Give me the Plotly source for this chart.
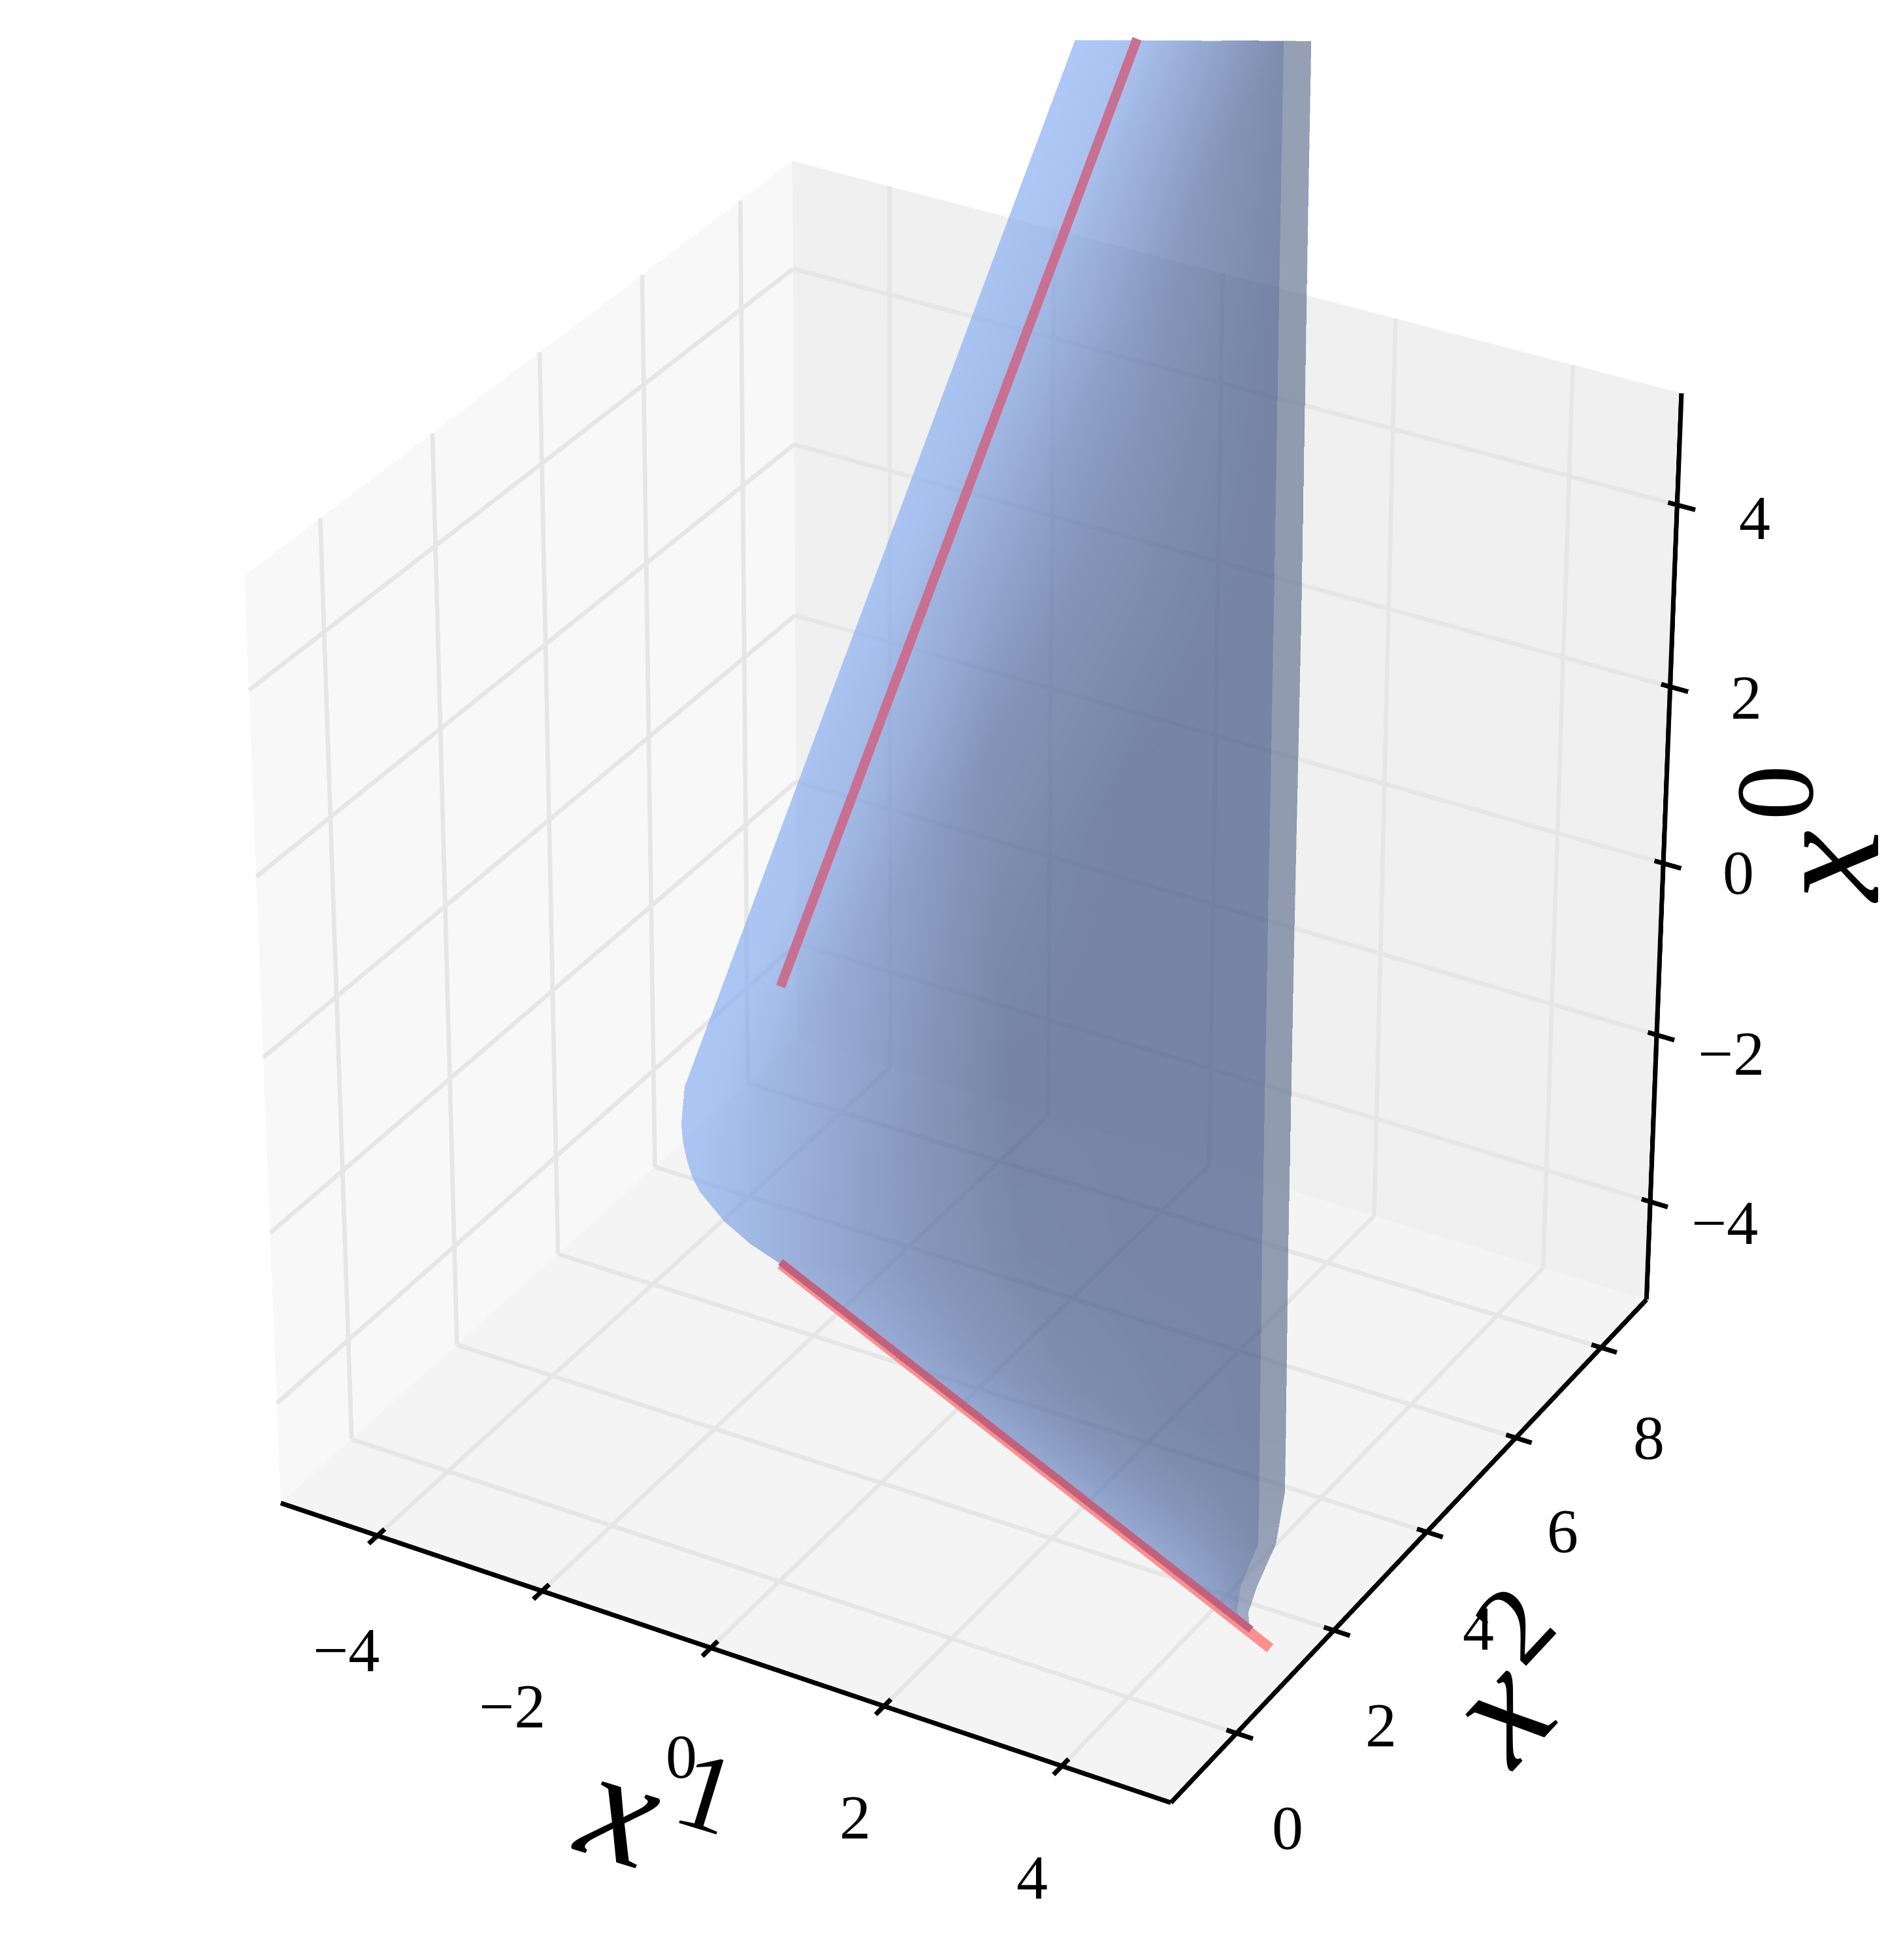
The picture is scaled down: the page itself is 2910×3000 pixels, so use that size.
import numpy as np
import plotly.graph_objects as go

# ---------- axis values ----------
x1_ticks = [-4, -2, 0, 2, 4]
x2_ticks = [0, 2, 4, 6, 8]
x0_ticks = [-4, -2, 0, 2, 4]
x1_range = [-5.2, 5.2]
x2_range = [-1.3, 9.1]
x0_range = [-5.2, 5.2]

# ---------- surface sheet, one inner list per generator (column) ----------
# last two entries of a generator: the same edge again, then the outer edge of the pale strip
sheet_x1 = [-0.94, -1.06, -1.10, -1.08, -1.03, -0.97, -0.88, -0.72, -0.59, -0.29, 0.07, 0.07, 0.07, 0.07, 0.07, 0.07, 0.07]
sheet_x2 = [
    [0, 2, 4, 6, 8, 8, 8],
    [0, 2.38, 4.77, 7.15, 9.53, 9.53, 9.53],
    [0, 2.76, 5.53, 8.29, 11.05, 11.05, 11.05],
    [0, 2.96, 5.92, 8.88, 11.84, 11.84, 11.84],
    [0, 3.14, 6.28, 9.41, 12.55, 12.55, 13.13],
    [0, 3.10, 6.20, 9.29, 12.39, 12.39, 12.97],
    [0, 3.05, 6.09, 9.14, 12.18, 12.18, 12.76],
    [0, 2.96, 5.92, 8.88, 11.84, 11.84, 12.42],
    [0, 2.89, 5.78, 8.66, 11.55, 11.55, 12.13],
    [0, 2.72, 5.45, 8.17, 10.89, 10.89, 11.45],
    [0, 2.53, 5.07, 7.60, 10.13, 10.13, 10.68],
    [1.97, 4.00, 6.03, 8.05, 10.08, 10.08, 10.63],
    [3.29, 4.99, 6.68, 8.38, 10.07, 10.07, 10.61],
    [4.6, 5.96, 7.33, 8.69, 10.05, 10.05, 10.42],
    [7.24, 7.85, 8.46, 9.07, 9.68, 9.68, 10.03],
    [9.47, 9.50, 9.54, 9.57, 9.60, 9.60, 9.84],
    [9.87, 9.87, 9.87, 9.87, 9.87, 9.87, 9.87],
]
sheet_x0 = [
    [0.65, 2.53, 4.40, 6.28, 8.15, 8.15, 8.15],
    [0.30, 2.05, 3.79, 5.54, 7.28, 7.28, 7.28],
    [-0.15, 1.50, 3.15, 4.80, 6.44, 6.44, 6.44],
    [-0.36, 1.24, 2.83, 4.43, 6.02, 6.02, 6.02],
    [-0.56, 0.99, 2.55, 4.10, 5.65, 5.65, 5.33],
    [-0.73, 0.50, 1.73, 2.95, 4.18, 4.18, 3.86],
    [-0.87, 0.03, 0.93, 1.82, 2.72, 2.72, 2.41],
    [-1.01, -0.47, 0.07, 0.61, 1.15, 1.15, 0.83],
    [-1.12, -0.96, -0.80, -0.63, -0.47, -0.47, -0.78],
    [-1.28, -1.87, -2.46, -3.04, -3.63, -3.63, -3.94],
    [-1.40, -2.73, -4.07, -5.40, -6.73, -6.73, -7.03],
    [-3.31, -4.70, -6.10, -7.49, -8.88, -8.88, -9.18],
    [-4.60, -5.82, -7.05, -8.27, -9.49, -9.49, -9.79],
    [-5.87, -6.93, -7.98, -9.04, -10.09, -10.09, -10.29],
    [-8.43, -8.92, -9.40, -9.89, -10.37, -10.37, -10.56],
    [-10.6, -10.61, -10.62, -10.63, -10.64, -10.64, -10.77],
    [-10.99, -10.99, -10.99, -10.99, -10.99, -10.99, -10.99],
]
# 0 = lightest, 1 = darkest on the sheet; 1.1 to 1.25 = pale strip
sheet_shade = [
    [0, 0, 0, 0, 0, 1.1, 1.1],
    [0, 0.05, 0.05, 0.08, 0.1, 1.1, 1.1],
    [0, 0.05, 0.25, 0.3, 0.5, 1.1, 1.1],
    [0, 0.12, 0.35, 0.45, 0.72, 1.1, 1.1],
    [0, 0.2, 0.45, 0.6, 0.95, 1.1, 1.1],
    [0.01, 0.3, 0.6, 0.7, 0.98, 1.1, 1.1],
    [0.03, 0.4, 0.75, 0.8, 1, 1.1, 1.1],
    [0.06, 0.45, 0.82, 0.9, 1, 1.1, 1.1],
    [0.1, 0.5, 0.9, 1, 1, 1.1, 1.1],
    [0.18, 0.6, 1, 1, 1, 1.1, 1.1],
    [0.28, 0.65, 0.95, 1, 1, 1.1, 1.1],
    [0.38, 0.65, 0.85, 0.95, 1, 1.1, 1.1],
    [0.4, 0.62, 0.78, 0.88, 0.95, 1.12, 1.12],
    [0.4, 0.55, 0.65, 0.75, 0.9, 1.15, 1.15],
    [0.4, 0.45, 0.5, 0.6, 0.75, 1.2, 1.2],
    [0.6, 0.6, 0.6, 0.65, 0.7, 1.25, 1.25],
    [0.8, 0.8, 0.8, 0.8, 0.8, 1.25, 1.25],
]

# red null rays
ray_up = {"x1": [0.07, 0.07], "x2": [0, 7.5], "x0": [1.82, 8.76]}
ray_down = {"x1": [0.07, 0.07], "x2": [0, 10.3], "x0": [-1.40, -11.43]}
ray_down_cover = {"x1": [0.07, 0.07], "x2": [0, 9.9], "x0": [-1.375, -11.0]}

# ---------- view ----------
W, H = 2910, 3000
S = 78.5                   # overview pixels per unit
ZOOM = 5.2
elev, azim = np.radians(34.5), np.radians(-60)
d = np.array([np.cos(elev) * np.cos(azim), np.cos(elev) * np.sin(azim), np.sin(elev)])
r = np.array([-np.sin(azim), np.cos(azim), 0.0])
u = np.cross(d, r)
aspect = np.array([1.0, 0.97, 1.067])
center = np.array([0.0, 3.7, -0.128])
L = 26.0


def to_data(px, py, T):
    """Overview pixel -> data point lying T units behind the scene centre."""
    q = (px - 760.5) / S * r + (784 - py) / S * u - T * d
    return center + q / aspect


corners_px = {
    (0, 0, 0): (224, 1203), (1, 0, 0): (937, 1443), (1, 1, 0): (1318, 1040), (0, 1, 0): (638, 831),
    (0, 0, 1): (195, 460), (1, 0, 1): (976, 620), (1, 1, 1): (1346, 314), (0, 1, 1): (634, 128),
}
corner_w = {
    (0, 0, 0): 1.014, (1, 0, 0): 0.948, (1, 1, 0): 1.0625, (0, 1, 0): 1.129,
    (0, 0, 1): 0.9375, (1, 0, 1): 0.882, (1, 1, 1): 0.986, (0, 1, 1): 1.052,
}


def box_px(a, b, c):
    ta = (a - x1_range[0]) / (x1_range[1] - x1_range[0])
    tb = (b - x2_range[0]) / (x2_range[1] - x2_range[0])
    tc = (c - x0_range[0]) / (x0_range[1] - x0_range[0])
    num = np.zeros(2)
    den = 0.0
    for k, p in corners_px.items():
        wt = corner_w[k] * (ta if k[0] else 1 - ta) * (tb if k[1] else 1 - tb) * (tc if k[2] else 1 - tc)
        num += wt * np.array(p)
        den += wt
    return num / den


def box_pt(a, b, c, T):
    return to_data(*box_px(a, b, c), T)


def segs(pairs, T):
    xs, ys, zs = [], [], []
    for p0, p1 in pairs:
        a0, a1 = box_pt(*p0, T), box_pt(*p1, T)
        xs += [a0[0], a1[0], None]
        ys += [a0[1], a1[1], None]
        zs += [a0[2], a1[2], None]
    return xs, ys, zs


def line_trace(pairs, T, color, width):
    xs, ys, zs = segs(pairs, T)
    return go.Scatter3d(x=xs, y=ys, z=zs, mode="lines", line=dict(color=color, width=width),
                        hoverinfo="skip", showlegend=False)


def wall_trace(pts, color, T):
    v = np.array([box_pt(*p, T) for p in pts])
    return go.Mesh3d(x=v[:, 0], y=v[:, 1], z=v[:, 2], i=[0, 0], j=[1, 2], k=[2, 3], color=color,
                     flatshading=True, hoverinfo="skip", showlegend=False,
                     lighting=dict(ambient=1, diffuse=0, specular=0, fresnel=0, roughness=1))


def toward_viewer(x1, x2, x0, T):
    return (np.asarray(x1, float) + T * d[0] / aspect[0],
            np.asarray(x2, float) + T * d[1] / aspect[1],
            np.asarray(x0, float) + T * d[2] / aspect[2])


a0, a1 = x1_range
b0, b1 = x2_range
c0, c1 = x0_range
fig = go.Figure()

# panes
fig.add_trace(wall_trace([(a0, b0, c0), (a1, b0, c0), (a1, b1, c0), (a0, b1, c0)], "#f4f4f4", 20))
fig.add_trace(wall_trace([(a0, b0, c0), (a0, b1, c0), (a0, b1, c1), (a0, b0, c1)], "#f8f8f8", 20))
fig.add_trace(wall_trace([(a0, b1, c0), (a1, b1, c0), (a1, b1, c1), (a0, b1, c1)], "#f0f0f0", 20))

# grid
grid = []
for v in x1_ticks:
    grid += [((v, b0, c0), (v, b1, c0)), ((v, b1, c0), (v, b1, c1))]
for v in x2_ticks:
    grid += [((a0, v, c0), (a1, v, c0)), ((a0, v, c0), (a0, v, c1))]
for v in x0_ticks:
    grid += [((a0, b0, v), (a0, b1, v)), ((a0, b1, v), (a1, b1, v))]
fig.add_trace(line_trace(grid, 19.5, "#e6e6e6", 13))

# axis lines and ticks
axes = [((a0, b0, c0), (a1, b0, c0)), ((a1, b0, c0), (a1, b1, c0)), ((a1, b1, c0), (a1, b1, c1))]
ticks = []
for v in x1_ticks:
    ticks.append(((v, b0 - 0.16, c0), (v, b0 + 0.13, c0)))
for v in x2_ticks:
    ticks.append(((a1 - 0.11, v, c0), (a1 + 0.18, v, c0)))
for v in x0_ticks:
    ticks.append(((a1 - 0.1, b1, v), (a1 + 0.2, b1, v)))
fig.add_trace(line_trace(axes + ticks, 19, "#000000", 14))

# rays under and over the sheet
xs, ys, zs = toward_viewer(ray_down["x1"], ray_down["x2"], ray_down["x0"], 1)
fig.add_trace(go.Scatter3d(x=xs, y=ys, z=zs, mode="lines", line=dict(color="#ff8f8f", width=31),
                           hoverinfo="skip", showlegend=False))
xs, ys, zs = toward_viewer(ray_down_cover["x1"], ray_down_cover["x2"], ray_down_cover["x0"], 1.5)
fig.add_trace(go.Scatter3d(x=xs, y=ys, z=zs, mode="lines", line=dict(color="#c0627d", width=22),
                           hoverinfo="skip", showlegend=False))
xs, ys, zs = toward_viewer(ray_up["x1"], ray_up["x2"], ray_up["x0"], 1)
fig.add_trace(go.Scatter3d(x=xs, y=ys, z=zs, mode="lines", line=dict(color="#c87091", width=29),
                           hoverinfo="skip", showlegend=False))

# sheet
flat = dict(ambient=1, diffuse=0, specular=0, fresnel=0, roughness=1)
sx2 = np.array(sheet_x2)
sx0 = np.array(sheet_x0)
sx1 = np.tile(np.array(sheet_x1)[:, None], (1, sx2.shape[1]))
fig.add_trace(go.Surface(x=sx1, y=sx2, z=sx0, surfacecolor=np.array(sheet_shade), cmin=0, cmax=1.25,
                         colorscale=[[0, "rgb(132,170,242)"], [0.8, "rgb(53,73,124)"],
                                     [0.88, "rgb(92,108,140)"], [1, "rgb(117,132,171)"]],
                         showscale=False, opacity=0.65, lighting=flat, hoverinfo="skip"))

# ---------- text ----------
FONT = "Liberation Serif"
tick_text_pos = {
    "x1": ([277, 410, 545, 684, 826], [1320, 1365, 1405, 1454, 1502]),
    "x2": ([1030, 1105, 1183, 1250, 1319], [1462, 1380, 1303, 1225, 1150]),
    "x0": ([1380, 1385, 1391, 1397, 1404], [978, 843, 698, 558, 414]),
}
anns = []


def label(px, py, text, size, angle=0):
    anns.append(dict(x=px / 1521, y=1 - py / 1568, xref="paper", yref="paper", text=text, showarrow=False,
                     xanchor="center", yanchor="middle", textangle=angle,
                     font=dict(family=FONT, size=size, color="black")))


for vals, key in ((x1_ticks, "x1"), (x2_ticks, "x2"), (x0_ticks, "x0")):
    for v, px, py in zip(vals, *tick_text_pos[key]):
        label(px, py, str(v).replace("-", "\u2212"), 96)
label(497, 1446, "<i>x</i>", 245, 17)
label(566, 1434, "1", 170, 17)
label(1198, 1367, "<i>x</i>", 245, -47)
label(1212, 1299, "2", 170, -47)
label(1460, 693, "<i>x</i>", 245, -90)
label(1420, 634, "0", 170, -90)

off = dict(visible=False, showgrid=False, zeroline=False, showline=False, showticklabels=False,
           showbackground=False, showspikes=False)
fig.update_layout(
    width=W, height=H, margin=dict(l=0, r=0, t=0, b=0), paper_bgcolor="white", showlegend=False,
    annotations=anns,
    scene=dict(
        domain=dict(x=[0, 1], y=[0, 1]),
        xaxis=dict(range=[center[0] - L, center[0] + L], **off),
        yaxis=dict(range=[center[1] - L, center[1] + L], **off),
        zaxis=dict(range=[center[2] - L, center[2] + L], **off),
        aspectmode="manual",
        aspectratio=dict(x=aspect[0] * ZOOM, y=aspect[1] * ZOOM, z=aspect[2] * ZOOM),
        camera=dict(projection=dict(type="orthographic"), up=dict(x=0, y=0, z=1),
                    center=dict(x=0, y=0, z=0),
                    eye=dict(x=d[0] * 2, y=d[1] * 2, z=d[2] * 2)),
    ),
)
fig.write_html("out.html", config={"displayModeBar": False}, post_script="document.body.style.margin='0';")
